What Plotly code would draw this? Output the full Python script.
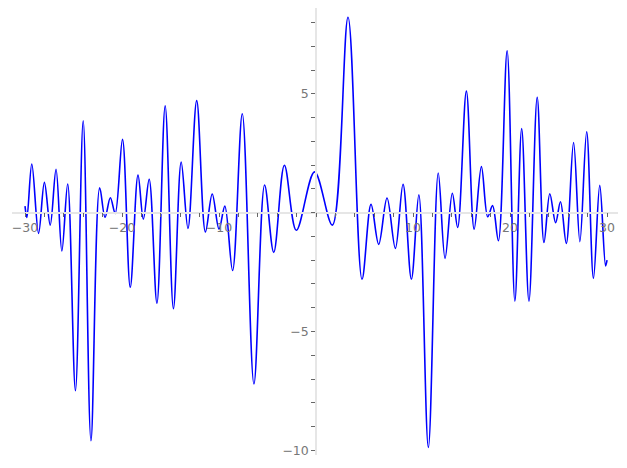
"""Wiggly curve on centred axes, matplotlib/sympy look."""

import plotly.graph_objects as go

# turning points of the curve (x, y)
CURVE_X = [
    -30.0, -29.8, -29.3, -28.6, -28.0, -27.4, -26.8, -26.2, -25.6, -24.8,
    -24.0, -23.2, -22.3, -21.75, -21.2, -20.7, -19.95, -19.15, -18.35, -17.8,
    -17.2, -16.4, -15.55, -14.7, -13.9, -13.2, -12.3, -11.4, -10.7, -10.0,
    -9.4, -8.6, -7.6, -6.4, -5.3, -4.36, -3.26, -2.03, -0.15, 1.68,
    3.3, 4.74, 5.67, 6.46, 7.32, 8.18, 8.97, 9.83, 10.6, 11.58,
    12.6, 13.3, 14.05, 14.6, 15.5, 16.3, 17.05, 17.7, 18.2, 18.8,
    19.7, 20.5, 21.2, 21.95, 22.8, 23.5, 24.1, 24.7, 25.2, 25.8,
    26.55, 27.2, 27.9, 28.6, 29.25, 29.85, 30.0,
]
CURVE_Y = [
    0.28, -0.2, 2.05, -0.87, 1.28, -0.52, 1.83, -1.61, 1.21, -7.49,
    3.87, -9.6, 1.05, -0.19, 0.63, -0.03, 3.09, -3.14, 1.59, -0.27,
    1.41, -3.81, 4.5, -4.04, 2.13, -0.66, 4.72, -0.81, 0.79, -0.69,
    0.28, -2.43, 4.17, -7.21, 1.17, -1.67, 2.0, -0.74, 1.72, -0.52,
    8.23, -2.8, 0.35, -1.33, 0.62, -1.5, 1.2, -2.8, 0.75, -9.88,
    1.67, -1.92, 0.82, -0.62, 5.12, -0.69, 1.94, -0.17, 0.3, -1.18,
    6.82, -3.72, 3.54, -3.72, 4.86, -1.25, 0.8, -0.42, 0.46, -1.29,
    2.96, -1.22, 3.41, -2.76, 1.15, -2.24, -2.0,
]

X_TICKS = [-30, -20, -10, 0, 10, 20, 30]
X_TICK_TEXT = ["\u221230", "\u221220", "\u221210", "", "10", "20", "30"]
Y_TICKS = [-10, -5, 0, 5]
Y_TICK_TEXT = ["\u221210", "\u22125", "", "5"]

X_RANGE = [-31.34, 31.13]
Y_RANGE = [-10.2, 8.62]

SPINE = "#e6e6e6"
TICK = "#666666"
LABEL = "#777777"
FONT = "DejaVu Sans"

fig = go.Figure()
fig.add_trace(
    go.Scatter(
        x=CURVE_X,
        y=CURVE_Y,
        mode="lines",
        line=dict(color="#0000ff", width=1.6, shape="spline", smoothing=1.0),
        showlegend=False,
        hoverinfo="skip",
    )
)

# put each axis through the other axis' zero
x_pos = (0 - Y_RANGE[0]) / (Y_RANGE[1] - Y_RANGE[0])
y_pos = (0 - X_RANGE[0]) / (X_RANGE[1] - X_RANGE[0])

fig.update_layout(
    width=627,
    height=468,
    margin=dict(l=12, r=9, t=8, b=13),
    paper_bgcolor="white",
    plot_bgcolor="white",
    font=dict(family=FONT, size=12.5, color=LABEL),
    xaxis=dict(
        range=X_RANGE,
        anchor="free",
        position=x_pos,
        side="bottom",
        showgrid=False,
        zeroline=False,
        showline=True,
        linecolor=SPINE,
        linewidth=1.5,
        tickmode="array",
        tickvals=X_TICKS,
        ticktext=X_TICK_TEXT,
        ticks="outside",
        ticklen=4,
        tickwidth=1,
        tickcolor=TICK,
        minor=dict(dtick=2, tick0=0, ticks="outside", ticklen=4, tickwidth=1, tickcolor=TICK),
        automargin=False,
    ),
    yaxis=dict(
        range=Y_RANGE,
        anchor="free",
        position=y_pos,
        side="left",
        showgrid=False,
        zeroline=False,
        showline=True,
        linecolor=SPINE,
        linewidth=1.5,
        tickmode="array",
        tickvals=Y_TICKS,
        ticktext=Y_TICK_TEXT,
        ticks="outside",
        ticklen=4,
        tickwidth=1,
        tickcolor=TICK,
        minor=dict(dtick=1, tick0=0, ticks="outside", ticklen=4, tickwidth=1, tickcolor=TICK),
        automargin=False,
    ),
)

# the page's default 8px body margin would shift the whole figure
fig.write_html(
    "out.html",
    config={"displayModeBar": False},
    post_script="document.body.style.margin = '0';",
)
